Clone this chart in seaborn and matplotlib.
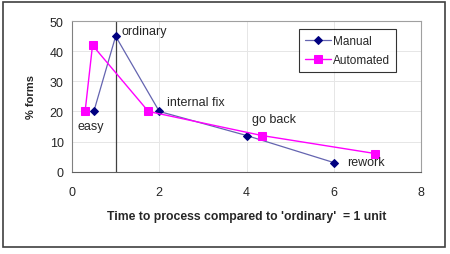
import pandas as pd
import matplotlib.pyplot as plt
import seaborn as sns
from matplotlib.patches import Rectangle

# data
manual_x = [0.5, 1, 2, 4, 6]
manual_y = [20, 45, 20, 12, 3]
auto_x = [0.3, 0.47, 1.75, 4.35, 6.95]
auto_y = [20, 42, 20, 12, 6]
labels = ['easy', 'ordinary', 'internal fix', 'go back', 'rework']
label_x = [0.13, 1.14, 2.17, 4.12, 6.3]
label_y = [15.2, 46.6, 23.2, 17.6, 3.2]

manual = pd.DataFrame({'x': manual_x, 'y': manual_y})
auto = pd.DataFrame({'x': auto_x, 'y': auto_y})

sns.set_style('white')
plt.rcParams['font.family'] = ['Liberation Sans', 'DejaVu Sans']

fig = plt.figure(figsize=(4.5, 2.55), dpi=100)
ax = fig.add_axes([0.16, 0.323, 0.776, 0.59])

sns.lineplot(data=manual, x='x', y='y', ax=ax, sort=False, color='#6464b0', lw=0.9,
             marker='D', markersize=4.5, markerfacecolor='#000080', markeredgecolor='#000080',
             label='Manual')
sns.lineplot(data=auto, x='x', y='y', ax=ax, sort=False, color='#ff00ff', lw=1.0,
             marker='s', markersize=5.5, markerfacecolor='#ff00ff', markeredgecolor='#ff00ff',
             label='Automated')

ax.axvline(1, color='#404040', lw=0.9, zorder=1)

for t, lx, ly in zip(labels, label_x, label_y):
    ax.text(lx, ly, t, fontsize=9, va='center', ha='left')

ax.set_xlim(0, 8)
ax.set_ylim(0, 50)
ax.set_xticks([0, 2, 4, 6, 8])
ax.set_yticks([0, 10, 20, 30, 40, 50])
ax.tick_params(labelsize=9, length=3, direction='out', color='#808080', pad=7)
ax.tick_params(axis='y', pad=3)
ax.grid(True, color='#e6e6e6', lw=0.7)
for s in ax.spines.values():
    s.set_color('#a0a0a0')
    s.set_linewidth(0.8)
ax.spines['bottom'].set_color('#606060')
ax.spines['left'].set_color('#808080')

ax.set_xlabel("Time to process compared to 'ordinary'  = 1 unit", fontsize=8.8,
              fontweight='bold', labelpad=9)
ax.set_ylabel('% forms', fontsize=8, fontweight='bold', labelpad=10)

leg = ax.legend(loc='upper right', bbox_to_anchor=(0.928, 0.945), borderaxespad=0,
                fontsize=8.5, frameon=True, fancybox=False, edgecolor='black',
                handlelength=2.2, borderpad=0.5, labelspacing=0.6, handletextpad=0.2)
leg.get_frame().set_linewidth(0.8)

fig.patches.append(Rectangle((0.006, 0.027), 0.983, 0.963, transform=fig.transFigure,
                             fill=False, edgecolor='#404040', lw=1.2))

fig.savefig('out.png', dpi=100)
